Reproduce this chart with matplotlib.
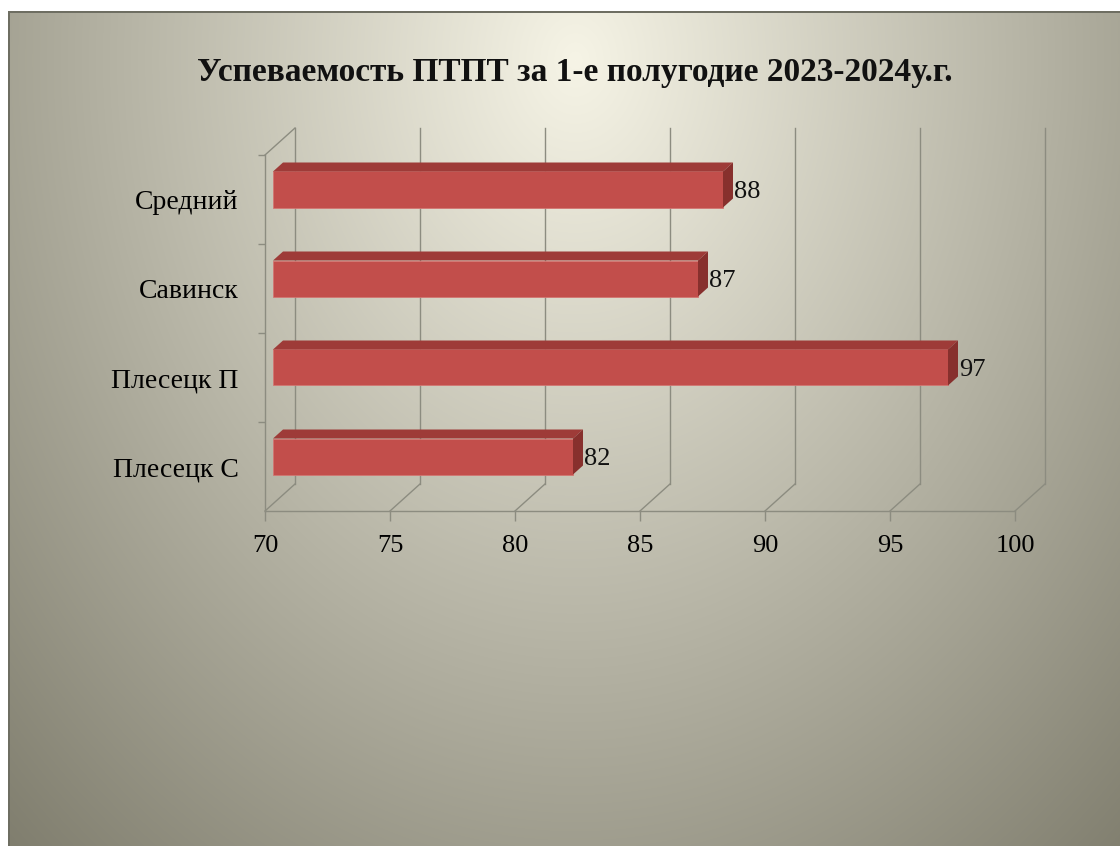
import numpy as np
import matplotlib.pyplot as plt
from matplotlib.patches import Polygon

### Data
categories = ["Плесецк С", "Плесецк П", "Савинск", "Средний"]
values = [82, 97, 87, 88]
x_ticks = [70, 75, 80, 85, 90, 95, 100]
title = "Успеваемость ПТПТ за 1-е полугодие 2023-2024у.г."

W, H = 1120, 846
serif = ["Liberation Serif", "DejaVu Serif"]

fig = plt.figure(figsize=(W / 100, H / 100), dpi=100)

### Slide background (radial gradient)
bg = fig.add_axes([0, 0, 1, 1], zorder=0)
yy, xx = np.mgrid[0:H, 0:W]
r = np.sqrt(((xx - 575) / 700.0) ** 2 + ((yy - 60) / 900.0) ** 2)
f = np.clip(r / 1.35, 0, 1)[..., None]
c0 = np.array([246, 244, 230]) / 255
c1 = np.array([112, 110, 94]) / 255
img = c0 + (c1 - c0) * f
img[:11, :, :] = 1.0
img[:, :8, :] = 1.0
img[11:13, 8:, :] = np.array([110, 110, 98]) / 255
img[11:, 8:10, :] = np.array([110, 110, 98]) / 255
bg.imshow(img, extent=[0, W, H, 0], aspect="auto", interpolation="bilinear")
bg.set_xlim(0, W)
bg.set_ylim(H, 0)
bg.axis("off")

### Chart axes (front plane)
left_px, right_px, top_px, bottom_px = 265, 1015, 155, 511
ax = fig.add_axes([left_px / W, 1 - bottom_px / H,
                   (right_px - left_px) / W, (bottom_px - top_px) / H], zorder=1)
ax.patch.set_alpha(0)
ax.set_xlim(70, 100)
ax.set_ylim(-0.5, len(categories) - 0.5)

sx = 30.0 / (right_px - left_px)             # data units per pixel (x)
sy = len(categories) / (bottom_px - top_px)  # data units per pixel (y)
grid_c = "#8c8c80"

# depth of back wall
ddx, ddy = 30 * sx, 27 * sy
y0, y1 = -0.5, len(categories) - 0.5
for t in x_ticks:
    ax.plot([t + ddx, t + ddx], [y0 + ddy, y1 + ddy], color=grid_c, lw=1,
            clip_on=False, zorder=1)
    ax.plot([t, t + ddx], [y0, y0 + ddy], color=grid_c, lw=1,
            clip_on=False, zorder=1)
ax.plot([70, 70 + ddx], [y1, y1 + ddy], color=grid_c, lw=1, clip_on=False, zorder=1)

for side in ["top", "right"]:
    ax.spines[side].set_visible(False)
for side in ["left", "bottom"]:
    ax.spines[side].set_color(grid_c)
    ax.spines[side].set_linewidth(1)

ax.set_xticks(x_ticks)
ax.set_xticklabels([str(t) for t in x_ticks], fontfamily=serif, fontsize=19)
ax.tick_params(axis="x", direction="out", length=7, width=1, color=grid_c, pad=10)
ax.set_yticks(range(len(categories)))
ax.set_yticklabels(categories, fontfamily=serif, fontsize=20)
ax.tick_params(axis="y", length=0, pad=19)
ax.set_yticks([i + 0.5 for i in range(len(categories))], minor=True)
ax.tick_params(axis="y", which="minor", direction="out", length=5, width=1, color=grid_c)

### 3D bars
bdx, bdy = 8 * sx, 10 * sy       # bar position inside depth
h = 36 * sy                      # front face height
tdx, tdy = 10 * sx, 9 * sy       # bar depth
front_c, top_c, side_c = "#c24e4b", "#9e3b38", "#87302d"

for i, v in enumerate(values):
    yc = i + bdy
    yb, yt = yc - h / 2, yc + h / 2
    ax.barh(yc, v - 70, left=70 + bdx, height=h, color=front_c,
            edgecolor="#d27672", linewidth=0.6, zorder=3, clip_on=False)
    ax.add_patch(Polygon([(70 + bdx, yt), (v + bdx, yt), (v + bdx + tdx, yt + tdy),
                          (70 + bdx + tdx, yt + tdy)], closed=True, facecolor=top_c,
                         edgecolor="none", zorder=3, clip_on=False))
    ax.add_patch(Polygon([(v + bdx, yb), (v + bdx, yt), (v + bdx + tdx, yt + tdy),
                          (v + bdx + tdx, yb + tdy)], closed=True, facecolor=side_c,
                         edgecolor="none", zorder=3, clip_on=False))
    ax.text(v + bdx + tdx + 1 * sx, yc - 2 * sy, str(v), ha="left", va="center",
            fontfamily=serif, fontsize=19, color="#111111", zorder=4)

### Title
fig.text(575 / W, 1 - 72 / H, title, ha="center", va="center",
         fontfamily=serif, fontsize=24, fontweight="bold", color="#111111")

fig.savefig("out.png", dpi=100)
